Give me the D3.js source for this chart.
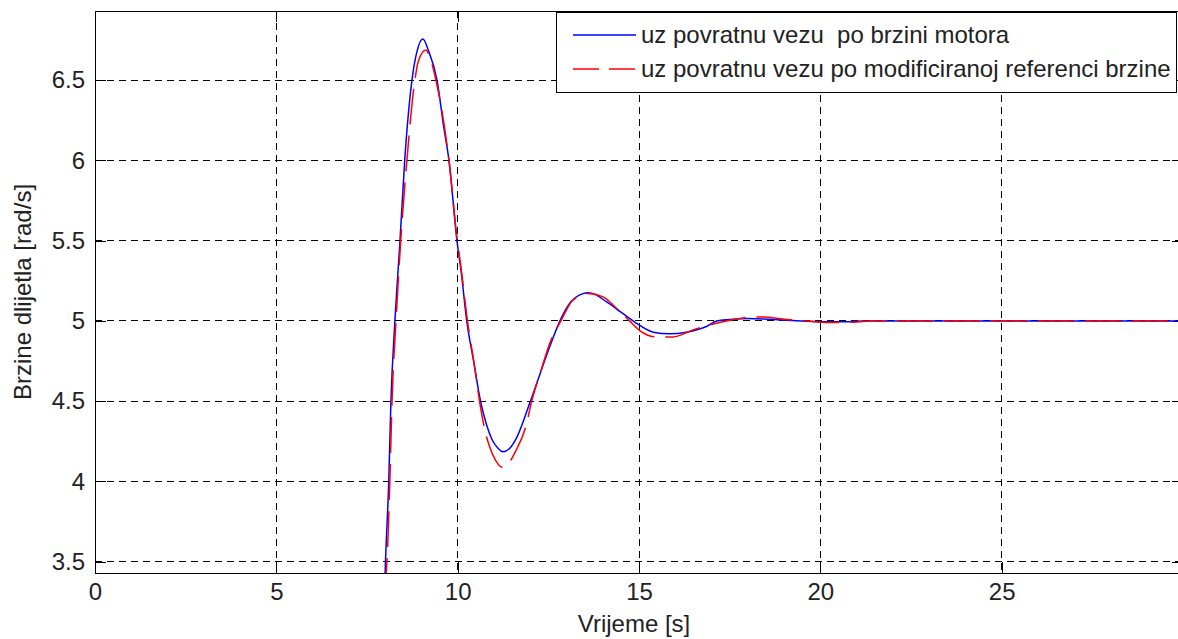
<!DOCTYPE html>
<html>
<head>
<meta charset="utf-8">
<script src="https://cdn.jsdelivr.net/npm/d3@7"></script>
<style>
    body{ margin:0; background:#fff; }
    svg{ display:block; font-family:"Liberation Sans", Arial, sans-serif; }
    .axis text{ font-size:24px; fill:#222; }
    .axis line{ stroke:#000; }
</style>
</head>
<body>
<div id="chart-container"></div>
<script>
// vrijeme [s] i brzina [rad/s] - povratna veza po brzini motora
const timeMotor = [7.97, 8.00, 8.01, 8.10, 8.16, 8.27, 8.41, 8.54, 8.74, 8.88, 9.04, 9.20, 9.43, 9.62, 9.76, 9.98, 10.10,
    10.25, 10.44, 10.63, 10.80, 10.95, 11.10, 11.25, 11.45, 11.62, 11.99, 12.27, 12.54, 12.82, 13.09, 13.46, 13.59, 13.73,
    14.10, 14.47, 14.90, 15.39, 15.85, 16.31, 16.86, 17.14, 17.50, 18.00, 18.60, 19.20, 19.80, 20.50, 21.20, 22.00, 30.00]
const speedMotor = [3.30, 3.43, 3.50, 4.00, 4.50, 5.00, 5.50, 6.00, 6.50, 6.68, 6.755, 6.68, 6.50, 6.20, 6.00, 5.50, 5.30,
    5.00, 4.75, 4.50, 4.35, 4.26, 4.21, 4.185, 4.21, 4.27, 4.49, 4.67, 4.84, 5.00, 5.11, 5.17, 5.175, 5.17,
    5.12, 5.06, 4.99, 4.93, 4.92, 4.93, 4.965, 5.00, 5.008, 5.015, 5.01, 5.003, 4.997, 4.995, 4.999, 5.00, 5.00]

// povratna veza po modificiranoj referenci brzine
const timeRef = [8.00, 8.03, 8.05, 8.13, 8.19, 8.30, 8.43, 8.60, 8.82, 8.92, 9.12, 9.25, 9.40, 9.76, 9.99, 10.10,
    10.27, 10.45, 10.61, 10.75, 10.89, 11.05, 11.21, 11.39, 11.58, 11.90, 12.03, 12.27, 12.54, 12.86, 13.18, 13.59,
    14.01, 14.37, 14.74, 15.02, 15.48, 15.94, 16.49, 17.13, 17.78, 18.10, 18.45, 19.00, 19.60, 20.20, 20.80, 21.40, 30.00]
const speedRef = [3.30, 3.43, 3.50, 4.00, 4.50, 5.00, 5.50, 6.00, 6.50, 6.62, 6.687, 6.63, 6.50, 6.00, 5.50, 5.32,
    5.00, 4.74, 4.49, 4.32, 4.21, 4.13, 4.09, 4.11, 4.18, 4.36, 4.49, 4.67, 4.86, 5.006, 5.13, 5.17,
    5.15, 5.08, 5.00, 4.94, 4.90, 4.90, 4.944, 4.986, 5.015, 5.025, 5.024, 5.01, 5.00, 4.99, 4.991, 5.00, 5.00]

const seriesNames = ['uz povratnu vezu  po brzini motora', 'uz povratnu vezu po modificiranoj referenci brzine']
const xTicks = [0, 5, 10, 15, 20, 25, 30]
const xTickLabels = ['0', '5', '10', '15', '20', '25', '']   // 30 lies past the cropped right edge
const yTicks = [3.5, 4, 4.5, 5, 5.5, 6, 6.5]
const xDomain = [0, 30]
const yDomain = [3.43, 6.93]

const W = 1178, H = 639
const margin = { left:95, top:11, right:-5, bottom:66 }
const width = W - margin.left - margin.right
const height = H - margin.top - margin.bottom

const svg = d3.select('#chart-container')
    .append('svg')
    .attr('width', W)
    .attr('height', H)

svg.append('defs').append('clipPath')
    .attr('id', 'plot-clip')
    .append('rect')
    .attr('width', width)
    .attr('height', height)

const g = svg.append('g')
    .attr('transform', `translate(${margin.left}, ${margin.top})`)

const xScale = d3.scaleLinear().domain(xDomain).range([0, width])
const yScale = d3.scaleLinear().domain(yDomain).range([height, 0])

// grid
const grid = g.append('g').attr('shape-rendering', 'crispEdges')
grid.selectAll('.vgrid')
    .data(xTicks)
    .join('line')
    .attr('x1', d => xScale(d)).attr('x2', d => xScale(d))
    .attr('y1', 0).attr('y2', height)
    .attr('stroke', '#000')
    .attr('stroke-dasharray', '7,5')
grid.selectAll('.hgrid')
    .data(yTicks)
    .join('line')
    .attr('x1', 0).attr('x2', width)
    .attr('y1', d => yScale(d)).attr('y2', d => yScale(d))
    .attr('stroke', '#000')
    .attr('stroke-dasharray', '7,5')

// axes with inward ticks
const tickLen = 11
g.append('g')
    .attr('class', 'axis')
    .attr('transform', `translate(0, ${height})`)
    .attr('shape-rendering', 'crispEdges')
    .call(d3.axisBottom(xScale).tickValues(xTicks).tickSize(-tickLen).tickPadding(10)
        .tickFormat((d, i) => xTickLabels[i]))
g.append('g')
    .attr('class', 'axis')
    .attr('shape-rendering', 'crispEdges')
    .call(d3.axisTop(xScale).tickValues(xTicks).tickSize(-tickLen).tickFormat(''))
g.append('g')
    .attr('class', 'axis')
    .attr('shape-rendering', 'crispEdges')
    .call(d3.axisLeft(yScale).tickValues(yTicks).tickSize(-tickLen).tickPadding(10).tickFormat(d => d))
g.append('g')
    .attr('class', 'axis')
    .attr('transform', `translate(${width}, 0)`)
    .attr('shape-rendering', 'crispEdges')
    .call(d3.axisRight(yScale).tickValues(yTicks).tickSize(-tickLen).tickFormat(''))
g.selectAll('.axis .domain').remove()

g.append('rect')
    .attr('width', width)
    .attr('height', height)
    .attr('fill', 'none')
    .attr('stroke', '#000')
    .attr('shape-rendering', 'crispEdges')

// lines
const line = d3.line()
    .x(d => xScale(d[0]))
    .y(d => yScale(d[1]))
    .curve(d3.curveMonotoneX)

const lines = g.append('g').attr('clip-path', 'url(#plot-clip)')
lines.append('path')
    .datum(d3.zip(timeMotor, speedMotor))
    .attr('d', line)
    .attr('fill', 'none')
    .attr('stroke', '#0000ff')
    .attr('stroke-width', 1.5)
lines.append('path')
    .datum(d3.zip(timeRef, speedRef))
    .attr('d', line)
    .attr('fill', 'none')
    .attr('stroke', '#ff0000')
    .attr('stroke-width', 1.5)
    .attr('stroke-dasharray', '36,11')

// axis labels
svg.append('text')
    .attr('x', 634)
    .attr('y', 632)
    .attr('text-anchor', 'middle')
    .attr('font-size', 24)
    .attr('fill', '#222')
    .text('Vrijeme [s]')
svg.append('text')
    .attr('transform', `translate(31, ${margin.top + height / 2}) rotate(-90)`)
    .attr('text-anchor', 'middle')
    .attr('font-size', 24)
    .attr('fill', '#222')
    .text('Brzine dlijetla [rad/s]')

// legend
const legend = svg.append('g')
legend.append('rect')
    .attr('x', 556.5).attr('y', 12.5)
    .attr('width', 620).attr('height', 80)
    .attr('fill', '#fff')
    .attr('stroke', '#000')
    .attr('shape-rendering', 'crispEdges')
const legendColors = ['#0000ff', '#ff0000']
const legendDash = [null, '26,10']
seriesNames.forEach((name, i) => {
    const y = 35 + i * 34
    legend.append('line')
        .attr('x1', 573).attr('x2', 636)
        .attr('y1', y).attr('y2', y)
        .attr('stroke', legendColors[i])
        .attr('stroke-width', 1.5)
        .attr('stroke-dasharray', legendDash[i])
    legend.append('text')
        .attr('x', 641)
        .attr('y', y + 8)
        .attr('font-size', 24)
        .attr('fill', '#222')
        .style('white-space', 'pre')
        .text(name)
})
</script>
</body>
</html>
